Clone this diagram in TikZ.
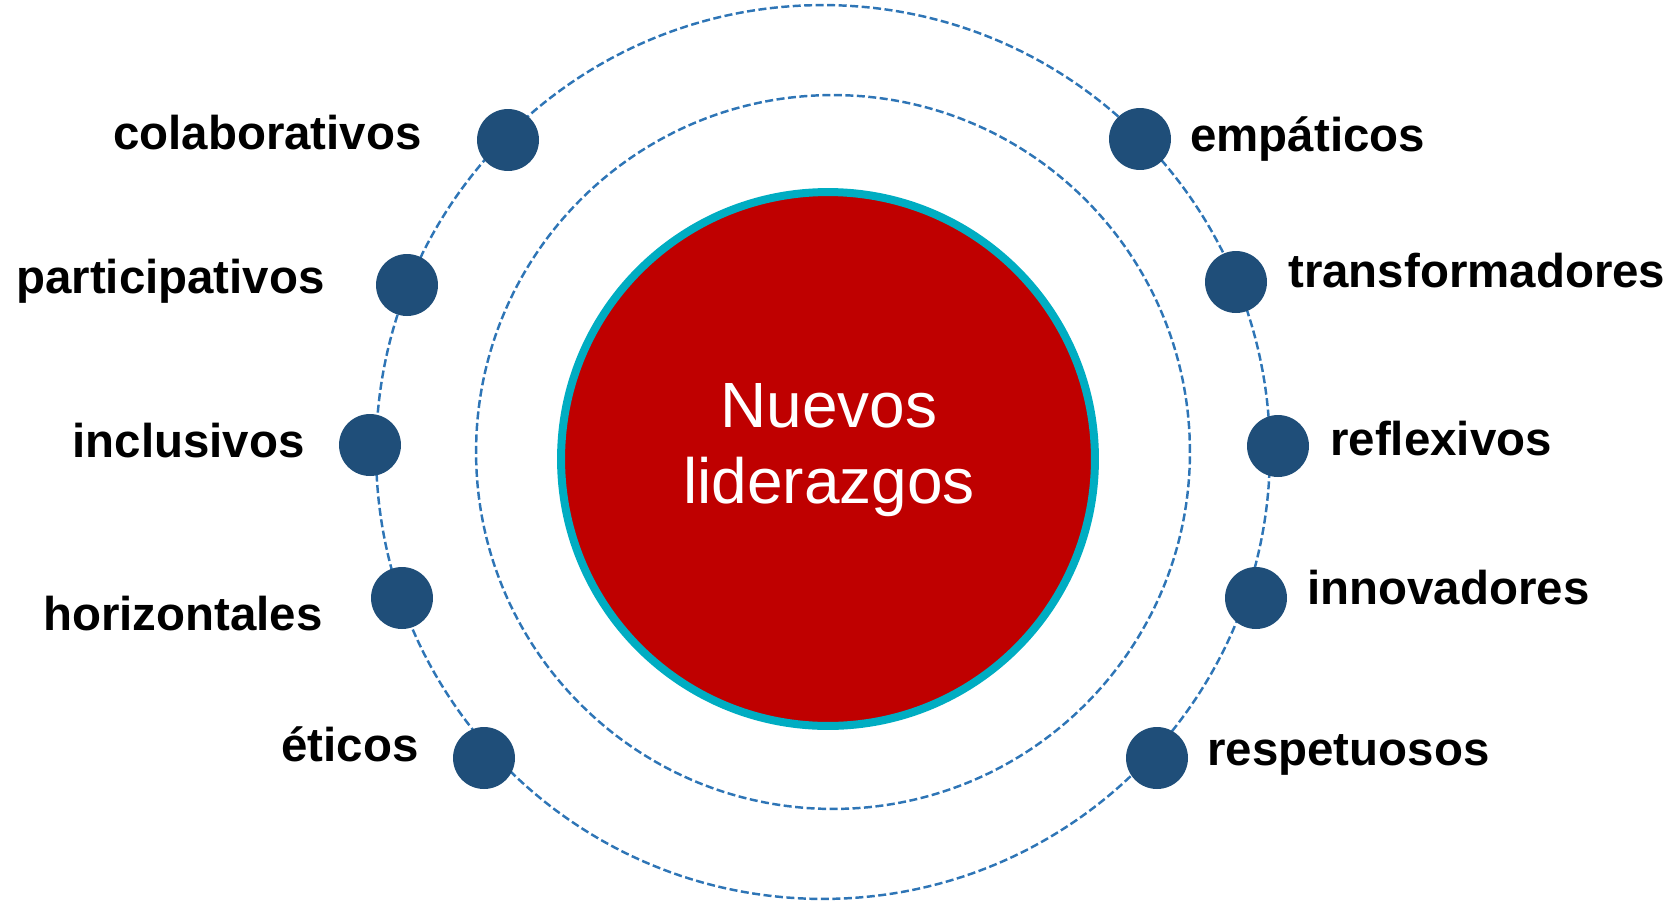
\documentclass[tikz,border=0pt]{standalone}
\usepackage{fontspec}
\setmainfont{Liberation Sans}
\definecolor{dotblue}{HTML}{1F4E79}
\definecolor{ringblue}{HTML}{2E75B6}
\definecolor{corered}{HTML}{BF0000}
\definecolor{corerim}{HTML}{00ADC2}

\begin{document}
\begin{tikzpicture}[x=0.02cm, y=-0.02cm,
	ring/.style={draw=ringblue, line width=1.4pt, dash pattern=on 0.16cm off 0.07cm},
	bead/.style={circle, fill=dotblue, minimum size=1.24cm, inner sep=0pt},
	word/.style={inner sep=0pt, font=\fontsize{27}{32}\selectfont\bfseries}]
		\useasboundingbox (0,0) rectangle (1677,900);
		% orbits
		\draw[ring] (823,452) circle [radius=8.94cm];
		\draw[ring] (833,452) circle [radius=7.14cm];
		% core
		\node[circle, fill=corered, draw=corerim, line width=0.16cm, minimum size=10.68cm, inner sep=0pt] (core) at (828,459) {};
		\node[white, align=center, font=\fontsize{36.4}{43.2}\selectfont] (title) at (829,450) {Nuevos\\liderazgos};
		% left side
		\node[bead] (colab) at (508,140) {};
		\node[word, anchor=base east] (colab-t) at (422,149) {colaborativos};
		\node[bead] (partic) at (407,285) {};
		\node[word, anchor=base east] (partic-t) at (325,293) {participativos};
		\node[bead] (inclu) at (370,445) {};
		\node[word, anchor=base east] (inclu-t) at (305,457) {inclusivos};
		\node[bead] (horiz) at (402,598) {};
		\node[word, anchor=base east] (horiz-t) at (323,630) {horizontales};
		\node[bead] (etic) at (484,758) {};
		\node[word, anchor=base east] (etic-t) at (419,761) {éticos};
		% right side
		\node[bead] (empat) at (1140,139) {};
		\node[word, anchor=base west] (empat-t) at (1190,151) {empáticos};
		\node[bead] (trans) at (1236,282) {};
		\node[word, anchor=base west] (trans-t) at (1288,287) {transformadores};
		\node[bead] (refle) at (1278,446) {};
		\node[word, anchor=base west] (refle-t) at (1330,455) {reflexivos};
		\node[bead] (innov) at (1256,598) {};
		\node[word, anchor=base west] (innov-t) at (1307,604) {innovadores};
		\node[bead] (respe) at (1157,758) {};
		\node[word, anchor=base west] (respe-t) at (1207,765) {respetuosos};
\end{tikzpicture}
\end{document}
